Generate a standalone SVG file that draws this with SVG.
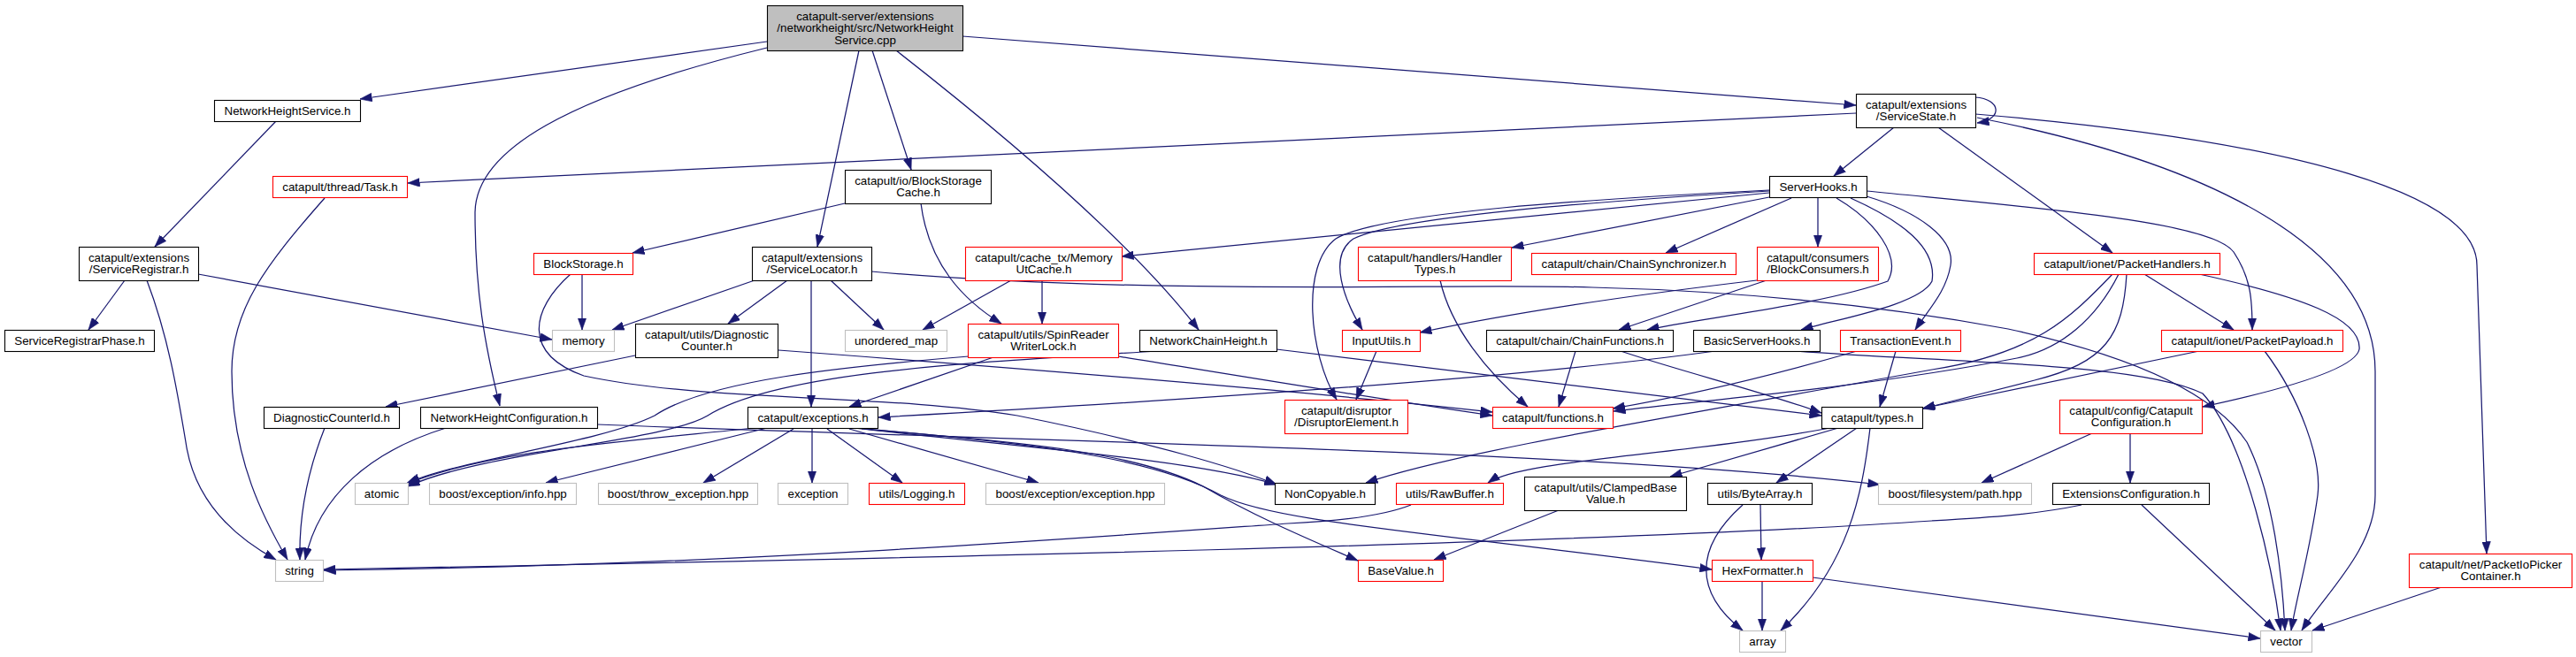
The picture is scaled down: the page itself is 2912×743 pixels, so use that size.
<svg xmlns="http://www.w3.org/2000/svg" width="2912" height="743" viewBox="0 0 2912 743">
<defs>
<marker id="ah" markerWidth="14" markerHeight="10" refX="13.5" refY="5" orient="auto" markerUnits="userSpaceOnUse"><path d="M0,0.2 L13.5,5 L0,9.8 z" fill="#191970" stroke="#191970" stroke-width="0.6"/></marker>
<style>
.b rect{fill:#fff;stroke:#000;stroke-width:1.1}
.r rect{fill:#fff;stroke:#ff0000;stroke-width:1.1}
.g rect{fill:#fff;stroke:#bfbfbf;stroke-width:1.1}
.root rect{fill:#bfbfbf;stroke:#000;stroke-width:1.1}
text{font-family:"Liberation Sans",Arial,Helvetica,sans-serif;font-size:13.33px;text-anchor:middle;fill:#000}
#edges path{fill:none;stroke:#191970;stroke-width:1.25;marker-end:url(#ah)}
</style>
</defs>
<rect width="2912" height="743" fill="#fff"/>
<g id="edges">
<path d="M867,47 L407,112"/>
<path d="M867,54 C640,110 538,170 537,240 C537,330 548,390 565,459"/>
<path d="M971,57 L924,279"/>
<path d="M986,57 L1030,192"/>
<path d="M1013,57 Q1260,250 1355,373"/>
<path d="M1088,41 L2098,119"/>
<path d="M312,137 L175,279"/>
<path d="M141,317 L100,373"/>
<path d="M166,317 C190,380 200,440 210,500 C220,570 270,610 312,633"/>
<path d="M224,310 L624,384"/>
<path d="M367,224 C300,300 262,350 262,420 C262,520 300,590 325,633"/>
<path d="M2098,128 L461,207"/>
<path d="M2141,144 L2073,199"/>
<path d="M2191,144 L2388,286"/>
<path d="M2233,110 C2262,112 2265,135 2235,139"/>
<path d="M2233,129 C2600,160 2800,220 2800,300 L2811,626"/>
<path d="M2235,133 C2500,185 2685,280 2685,420 L2685,560 C2685,620 2630,670 2602,713"/>
<path d="M2486,310 C2600,335 2670,360 2667,395 C2662,420 2560,445 2490,460"/>
<path d="M2110,216 C2300,235 2500,250 2525,285 C2545,315 2546,340 2546,373"/>
<path d="M2424,310 L2525,373"/>
<path d="M2388,310 C2340,360 2300,400 2184,418 C1900,470 1650,510 1544,546"/>
<path d="M2395,310 C2370,360 2330,395 2280,405 C2100,440 1900,455 1824,465"/>
<path d="M2404,310 C2400,380 2380,410 2300,430 C2240,445 2200,455 2174,462"/>
<path d="M2000,218 L1268,290"/>
<path d="M2000,215 C1800,225 1560,240 1510,270 C1470,300 1480,400 1511,452"/>
<path d="M2000,216 C1800,228 1580,245 1530,270 C1500,290 1520,340 1540,373"/>
<path d="M2000,223 L1709,280"/>
<path d="M2025,224 L1883,286"/>
<path d="M2055,224 L2055,279"/>
<path d="M2076,224 C2120,250 2150,290 2134,318 C2060,345 1920,360 1862,373"/>
<path d="M2092,224 C2150,250 2190,280 2184,318 C2170,345 2080,360 2036,373"/>
<path d="M2110,222 C2170,240 2210,270 2205,300 C2200,330 2180,350 2165,373"/>
<path d="M955,230 L715,286"/>
<path d="M1041,230 C1050,300 1090,340 1132,366"/>
<path d="M1143,317 L1043,373"/>
<path d="M1178,317 L1178,366"/>
<path d="M853,317 L692,373"/>
<path d="M890,317 L823,366"/>
<path d="M917,317 L917,460"/>
<path d="M939,317 L999,373"/>
<path d="M985,307 C1300,335 1650,320 1800,325 C2000,330 2150,350 2270,372 C2400,400 2500,440 2540,500 C2570,560 2580,650 2583,713"/>
<path d="M2032,397 C2200,410 2420,410 2490,445 C2540,500 2570,650 2578,713"/>
<path d="M1939,397 C1700,430 1300,455 993,472"/>
<path d="M1123,404 L960,460"/>
<path d="M1264,403 C1400,425 1550,450 1687,470"/>
<path d="M1095,403 C950,415 800,430 740,470 C680,500 520,520 461,546"/>
<path d="M1308,397 C1100,410 880,420 800,470 C750,500 550,510 461,550"/>
<path d="M1443,395 L2059,470"/>
<path d="M718,402 L436,460"/>
<path d="M880,396 C1200,420 1500,445 1687,466"/>
<path d="M367,484 C345,540 338,590 339,633"/>
<path d="M504,484 C420,510 360,560 345,633"/>
<path d="M675,480 C1200,500 1800,510 2125,548"/>
<path d="M658,310 L658,373"/>
<path d="M645,310 C600,350 590,400 660,425 C800,455 1000,445 1150,470 C1300,500 1400,530 1443,548"/>
<path d="M1628,317 C1640,370 1680,420 1727,460"/>
<path d="M1986,317 Q1750,345 1605,376"/>
<path d="M1997,317 L1830,373"/>
<path d="M1556,397 L1533,452"/>
<path d="M1781,397 L1762,460"/>
<path d="M1832,397 C1900,420 2000,445 2059,467"/>
<path d="M2099,397 Q1950,440 1823,462"/>
<path d="M2143,397 L2125,460"/>
<path d="M2486,397 L2173,462"/>
<path d="M2560,397 C2600,450 2625,520 2620,560 C2612,620 2595,680 2590,713"/>
<path d="M2365,490 L2240,546"/>
<path d="M2408,490 L2408,546"/>
<path d="M2421,571 L2572,713"/>
<path d="M2353,571 C2300,582 2250,585 2184,589 C1800,615 1000,632 366,644"/>
<path d="M1595,571 C1560,585 1500,590 1456,592 C1200,610 800,640 366,645"/>
<path d="M2760,664 L2614,713"/>
<path d="M1992,657 L1992,713"/>
<path d="M2049,653 L2555,722"/>
<path d="M1990,571 L1991,633"/>
<path d="M1970,571 C1915,620 1915,670 1970,713"/>
<path d="M2099,484 L2008,546"/>
<path d="M2114,484 C2105,560 2090,640 2013,713"/>
<path d="M2078,484 L1888,539"/>
<path d="M2069,484 C1900,515 1720,520 1682,546"/>
<path d="M1762,577 L1621,633"/>
<path d="M853,484 C700,500 550,510 458,548"/>
<path d="M867,484 L617,546"/>
<path d="M897,485 L795,546"/>
<path d="M918,485 L918,546"/>
<path d="M935,485 L1020,546"/>
<path d="M960,485 L1174,546"/>
<path d="M965,484 C1150,505 1350,520 1443,548"/>
<path d="M974,485 C1150,500 1280,510 1360,550 C1420,585 1480,610 1535,634"/>
<path d="M979,485 C1150,500 1300,515 1380,560 C1440,590 1600,600 1935,644"/>
</g>
<g id="n_root" class="root"><rect x="867.5" y="6.5" width="221" height="51"/><text x="978" y="23">catapult-server/extensions</text><text x="978" y="36.3">/networkheight/src/NetworkHeight</text><text x="978" y="49.5">Service.cpp</text></g>
<g id="n_nhs" class="b"><rect x="242.5" y="113.5" width="165" height="24"/><text x="325" y="130">NetworkHeightService.h</text></g>
<g id="n_task" class="r"><rect x="308.5" y="199.5" width="152" height="24"/><text x="384.5" y="216">catapult/thread/Task.h</text></g>
<g id="n_registrar" class="b"><rect x="89.5" y="279.5" width="135" height="38"/><text x="157" y="296">catapult/extensions</text><text x="157" y="309.3">/ServiceRegistrar.h</text></g>
<g id="n_blockstorage" class="r"><rect x="603.5" y="286.5" width="112" height="24"/><text x="659.5" y="303">BlockStorage.h</text></g>
<g id="n_bscache" class="b"><rect x="955.5" y="192.5" width="165" height="38"/><text x="1038" y="209">catapult/io/BlockStorage</text><text x="1038" y="222.3">Cache.h</text></g>
<g id="n_locator" class="b"><rect x="850.5" y="279.5" width="135" height="38"/><text x="918" y="296">catapult/extensions</text><text x="918" y="309.3">/ServiceLocator.h</text></g>
<g id="n_memutcache" class="r"><rect x="1091.5" y="279.5" width="177" height="38"/><text x="1180" y="296">catapult/cache_tx/Memory</text><text x="1180" y="309.3">UtCache.h</text></g>
<g id="n_servicestate" class="b"><rect x="2098.5" y="106.5" width="135" height="38"/><text x="2166" y="123">catapult/extensions</text><text x="2166" y="136.3">/ServiceState.h</text></g>
<g id="n_serverhooks" class="b"><rect x="2000.5" y="199.5" width="110" height="24"/><text x="2055.5" y="216">ServerHooks.h</text></g>
<g id="n_handlertypes" class="r"><rect x="1535.5" y="279.5" width="173" height="38"/><text x="1622" y="296">catapult/handlers/Handler</text><text x="1622" y="309.3">Types.h</text></g>
<g id="n_chainsync" class="r"><rect x="1731.5" y="286.5" width="231" height="24"/><text x="1847" y="303">catapult/chain/ChainSynchronizer.h</text></g>
<g id="n_blockconsumers" class="r"><rect x="1986.5" y="279.5" width="137" height="38"/><text x="2055" y="296">catapult/consumers</text><text x="2055" y="309.3">/BlockConsumers.h</text></g>
<g id="n_packethandlers" class="r"><rect x="2299.5" y="286.5" width="210" height="24"/><text x="2404.5" y="303">catapult/ionet/PacketHandlers.h</text></g>
<g id="n_registrarphase" class="b"><rect x="5.5" y="373.5" width="169" height="24"/><text x="90" y="390">ServiceRegistrarPhase.h</text></g>
<g id="n_memory" class="g"><rect x="624.5" y="373.5" width="70" height="24"/><text x="659.5" y="390">memory</text></g>
<g id="n_diagcounter" class="b"><rect x="718.5" y="366.5" width="161" height="38"/><text x="799" y="383">catapult/utils/Diagnostic</text><text x="799" y="396.3">Counter.h</text></g>
<g id="n_unorderedmap" class="g"><rect x="955.5" y="373.5" width="115" height="24"/><text x="1013" y="390">unordered_map</text></g>
<g id="n_spinlock" class="r"><rect x="1094.5" y="366.5" width="170" height="38"/><text x="1179.5" y="383">catapult/utils/SpinReader</text><text x="1179.5" y="396.3">WriterLock.h</text></g>
<g id="n_networkchainheight" class="b"><rect x="1288.5" y="373.5" width="155" height="24"/><text x="1366" y="390">NetworkChainHeight.h</text></g>
<g id="n_inpututils" class="r"><rect x="1517.5" y="373.5" width="88" height="24"/><text x="1561.5" y="390">InputUtils.h</text></g>
<g id="n_chainfunctions" class="b"><rect x="1680.5" y="373.5" width="211" height="24"/><text x="1786" y="390">catapult/chain/ChainFunctions.h</text></g>
<g id="n_basicserverhooks" class="b"><rect x="1914.5" y="373.5" width="143" height="24"/><text x="1986" y="390">BasicServerHooks.h</text></g>
<g id="n_transactionevent" class="r"><rect x="2080.5" y="373.5" width="136" height="24"/><text x="2148.5" y="390">TransactionEvent.h</text></g>
<g id="n_packetpayload" class="r"><rect x="2443.5" y="373.5" width="205" height="24"/><text x="2546" y="390">catapult/ionet/PacketPayload.h</text></g>
<g id="n_diagcounterid" class="b"><rect x="298.5" y="460.5" width="153" height="24"/><text x="375" y="477">DiagnosticCounterId.h</text></g>
<g id="n_nhconfig" class="b"><rect x="475.5" y="460.5" width="200" height="24"/><text x="575.5" y="477">NetworkHeightConfiguration.h</text></g>
<g id="n_exceptions" class="b"><rect x="845.5" y="460.5" width="147" height="24"/><text x="919" y="477">catapult/exceptions.h</text></g>
<g id="n_disruptor" class="r"><rect x="1452.5" y="452.5" width="139" height="38"/><text x="1522" y="469">catapult/disruptor</text><text x="1522" y="482.3">/DisruptorElement.h</text></g>
<g id="n_functions" class="r"><rect x="1687.5" y="460.5" width="136" height="24"/><text x="1755.5" y="477">catapult/functions.h</text></g>
<g id="n_types" class="b"><rect x="2059.5" y="460.5" width="114" height="24"/><text x="2116.5" y="477">catapult/types.h</text></g>
<g id="n_catapultconfig" class="r"><rect x="2328.5" y="452.5" width="161" height="38"/><text x="2409" y="469">catapult/config/Catapult</text><text x="2409" y="482.3">Configuration.h</text></g>
<g id="n_atomic" class="g"><rect x="401.5" y="546.5" width="60" height="24"/><text x="431.5" y="563">atomic</text></g>
<g id="n_infohpp" class="g"><rect x="485.5" y="546.5" width="166" height="24"/><text x="568.5" y="563">boost/exception/info.hpp</text></g>
<g id="n_throwexc" class="g"><rect x="676.5" y="546.5" width="180" height="24"/><text x="766.5" y="563">boost/throw_exception.hpp</text></g>
<g id="n_exception" class="g"><rect x="879.5" y="546.5" width="79" height="24"/><text x="919" y="563">exception</text></g>
<g id="n_logging" class="r"><rect x="982.5" y="546.5" width="108" height="24"/><text x="1036.5" y="563">utils/Logging.h</text></g>
<g id="n_exchpp" class="g"><rect x="1114.5" y="546.5" width="202" height="24"/><text x="1215.5" y="563">boost/exception/exception.hpp</text></g>
<g id="n_noncopyable" class="b"><rect x="1441.5" y="546.5" width="113" height="24"/><text x="1498" y="563">NonCopyable.h</text></g>
<g id="n_rawbuffer" class="r"><rect x="1578.5" y="546.5" width="121" height="24"/><text x="1639" y="563">utils/RawBuffer.h</text></g>
<g id="n_clampedbase" class="b"><rect x="1723.5" y="539.5" width="183" height="38"/><text x="1815" y="556">catapult/utils/ClampedBase</text><text x="1815" y="569.3">Value.h</text></g>
<g id="n_bytearray" class="b"><rect x="1930.5" y="546.5" width="118" height="24"/><text x="1989.5" y="563">utils/ByteArray.h</text></g>
<g id="n_fspath" class="g"><rect x="2123.5" y="546.5" width="173" height="24"/><text x="2210" y="563">boost/filesystem/path.hpp</text></g>
<g id="n_extconfig" class="b"><rect x="2320.5" y="546.5" width="177" height="24"/><text x="2409" y="563">ExtensionsConfiguration.h</text></g>
<g id="n_string" class="g"><rect x="311.5" y="633.5" width="54" height="24"/><text x="338.5" y="650">string</text></g>
<g id="n_basevalue" class="r"><rect x="1535.5" y="633.5" width="96" height="24"/><text x="1583.5" y="650">BaseValue.h</text></g>
<g id="n_hexformatter" class="r"><rect x="1935.5" y="633.5" width="114" height="24"/><text x="1992.5" y="650">HexFormatter.h</text></g>
<g id="n_packetiopicker" class="r"><rect x="2723.5" y="626.5" width="184" height="38"/><text x="2815.5" y="643">catapult/net/PacketIoPicker</text><text x="2815.5" y="656.3">Container.h</text></g>
<g id="n_array" class="g"><rect x="1966.5" y="713.5" width="52" height="24"/><text x="1992.5" y="730">array</text></g>
<g id="n_vector" class="g"><rect x="2555.5" y="713.5" width="58" height="24"/><text x="2584.5" y="730">vector</text></g>
</svg>
